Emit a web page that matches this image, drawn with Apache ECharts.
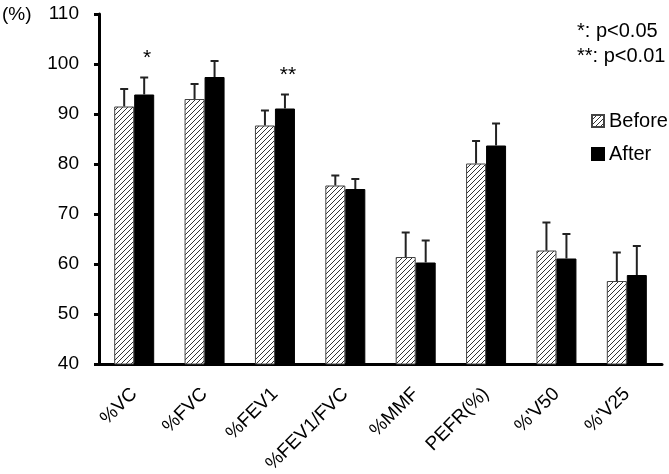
<!DOCTYPE html>
<html><head><meta charset="utf-8">
<script src="https://cdn.jsdelivr.net/npm/echarts@6/dist/echarts.min.js"></script>
<style>html,body{margin:0;padding:0;background:#fff}#c{width:669px;height:474px}</style>
</head><body><div id="c"></div>
<script>
const categories = ['%VC','%FVC','%FEV1','%FEV1/FVC','%MMF','PEFR(%)',"%'V50","%'V25"];
const beforeVals = [91.5, 93.0, 87.7, 75.7, 61.4, 80.1, 62.7, 56.6];
const beforeErr  = [3.5, 3.0, 3.0, 2.0, 4.9, 4.5, 5.6, 5.7];
const afterVals  = [93.9, 97.4, 91.1, 75.0, 60.3, 83.7, 61.1, 57.8];
const afterErr   = [3.4, 3.2, 2.8, 2.0, 4.4, 4.4, 4.9, 5.8];
const signif     = ['*', '', '**', '', '', '', '', ''];
const yTicks = {min: 40, max: 110, interval: 10};

const FONT = 'Liberation Sans, Arial, sans-serif';

// hatch pattern
const pc = document.createElement('canvas');
const s = 5;
pc.width = s; pc.height = s;
const g = pc.getContext('2d');
g.fillStyle = '#fff'; g.fillRect(0,0,s,s);
g.strokeStyle = '#333'; g.lineWidth = 1;
g.beginPath();
g.moveTo(-1, s+1); g.lineTo(s+1, -1);
g.moveTo(-1, 1); g.lineTo(1, -1);
g.moveTo(s-1, s+1); g.lineTo(s+1, s-1);
g.stroke();

const chart = echarts.init(document.getElementById('c'), null, {renderer: 'canvas'});

function errSeries(vals, errs, offset, stars) {
  return {
    type: 'custom',
    silent: true,
    z: 5,
    data: vals.map((v, i) => [i, v, v + errs[i]]),
    renderItem: function (params, api) {
      const i = api.value(0);
      const base = api.coord([i, api.value(1)]);
      const top = api.coord([i, api.value(2)]);
      const x = base[0] + offset;
      const children = [
        {type: 'line', shape: {x1: x, y1: base[1], x2: x, y2: top[1]}, style: {stroke: '#222', lineWidth: 2}},
        {type: 'line', shape: {x1: x - 4, y1: top[1], x2: x + 4, y2: top[1]}, style: {stroke: '#222', lineWidth: 2}}
      ];
      const st = stars ? stars[i] : '';
      if (st) {
        children.push({type: 'text', style: {text: st, x: x + 3, y: top[1] - 19, textAlign: 'center', textVerticalAlign: 'middle', font: '21px ' + FONT, fill: '#000'}});
      }
      return {type: 'group', children: children};
    }
  };
}

chart.setOption({
  animation: false,
  backgroundColor: '#fff',
  textStyle: {fontFamily: FONT},
  grid: {left: 99, right: 7, top: 14, bottom: 110, containLabel: false, outerBoundsMode: 'none'},
  legend: {
    orient: 'vertical', left: 586, top: 106, itemWidth: 12, itemHeight: 12, itemGap: 13,
    icon: 'rect',
    textStyle: {fontSize: 20, color: '#000', fontFamily: FONT},
    data: ['Before', 'After']
  },
  graphic: [
    {type: 'text', left: 2, top: 5, style: {text: '(%)', font: '19px ' + FONT, fill: '#000'}},
    {type: 'text', left: 577, top: 21, style: {text: '*: p<0.05', font: '20px ' + FONT, fill: '#000'}},
    {type: 'text', left: 577, top: 46, style: {text: '**: p<0.01', font: '20px ' + FONT, fill: '#000'}}
  ],
  xAxis: {
    type: 'category', data: categories,
    axisLine: {lineStyle: {color: '#000', width: 3}},
    axisTick: {show: false},
    axisLabel: {rotate: 45, fontSize: 19, color: '#000', fontFamily: FONT, margin: 27, interval: 0}
  },
  yAxis: {
    type: 'value', min: yTicks.min, max: yTicks.max, interval: yTicks.interval,
    splitLine: {show: false},
    axisLine: {show: true, lineStyle: {color: '#000', width: 3}},
    axisTick: {show: true, length: 5, lineStyle: {color: '#000', width: 3}},
    axisLabel: {fontSize: 19, color: '#000', fontFamily: FONT, margin: 20}
  },
  series: [
    {name: 'Before', type: 'bar', data: beforeVals, barWidth: 20, barGap: 0,
     itemStyle: {color: {image: pc, repetition: 'repeat'}, borderColor: '#444', borderWidth: 1}},
    {name: 'After', type: 'bar', data: afterVals, barWidth: 20, barGap: 0,
     itemStyle: {color: '#000', borderColor: '#000', borderWidth: 1}},
    errSeries(beforeVals, beforeErr, -10, null),
    errSeries(afterVals, afterErr, 10, signif)
  ]
});
</script>
</body></html>
